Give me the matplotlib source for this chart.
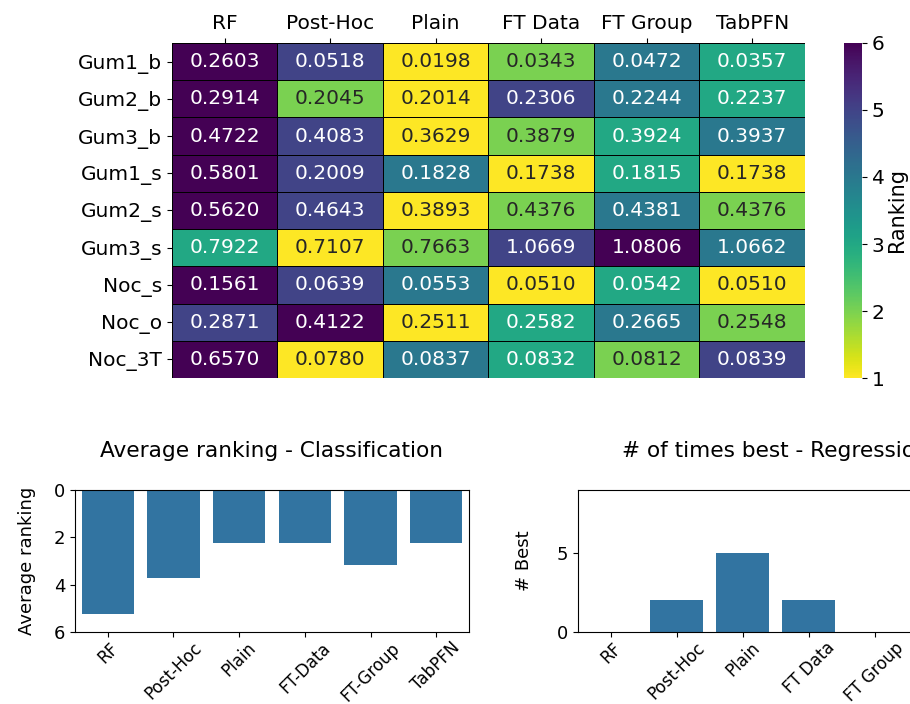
import numpy as np
import matplotlib
matplotlib.use("Agg")
import matplotlib.pyplot as plt
from matplotlib.colors import Normalize

# ── Regression results: error per dataset / method ───────────────────────────
methods = ["RF", "Post-Hoc", "Plain", "FT Data", "FT Group", "TabPFN"]
datasets = ["Gum1_b", "Gum2_b", "Gum3_b", "Gum1_s", "Gum2_s",
            "Gum3_s", "Noc_s", "Noc_o", "Noc_3T"]

errors = [
    [0.2603, 0.0518, 0.0198, 0.0343, 0.0472, 0.0357],
    [0.2914, 0.2045, 0.2014, 0.2306, 0.2244, 0.2237],
    [0.4722, 0.4083, 0.3629, 0.3879, 0.3924, 0.3937],
    [0.5801, 0.2009, 0.1828, 0.1738, 0.1815, 0.1738],
    [0.5620, 0.4643, 0.3893, 0.4376, 0.4381, 0.4376],
    [0.7922, 0.7107, 0.7663, 1.0669, 1.0806, 1.0662],
    [0.1561, 0.0639, 0.0553, 0.0510, 0.0542, 0.0510],
    [0.2871, 0.4122, 0.2511, 0.2582, 0.2665, 0.2548],
    [0.6570, 0.0780, 0.0837, 0.0832, 0.0812, 0.0839],
]

# rank within each dataset (1 = lowest error, ties share the lower rank)
rankings = [
    [6, 5, 1, 2, 4, 3],
    [6, 2, 1, 5, 4, 3],
    [6, 5, 1, 2, 3, 4],
    [6, 5, 4, 1, 3, 1],
    [6, 5, 1, 2, 4, 2],
    [3, 1, 2, 5, 6, 4],
    [6, 5, 4, 1, 3, 1],
    [5, 6, 1, 3, 4, 2],
    [6, 1, 4, 3, 2, 5],
]

# classification summary
clf_methods = ["RF", "Post-Hoc", "Plain", "FT-Data", "FT-Group", "TabPFN"]
clf_avg_rank = [5.25, 3.70, 2.26, 2.26, 3.19, 2.22]

# regression summary
reg_times_best = [0, 2, 5, 2, 0, 2]

BAR_COLOR = "#3274a1"

fig = plt.figure(figsize=(9.1, 7.04), dpi=100)

# ── Heatmap coloured by ranking, annotated with the error ─────────────────────
ax_hm = fig.add_axes([0.189, 0.463, 0.6956, 0.476])
ax_cb = fig.add_axes([0.9275, 0.463, 0.0198, 0.476])

rank_arr = np.array(rankings, dtype=float)
err_arr = np.array(errors)
norm = Normalize(vmin=1, vmax=6)
mesh = ax_hm.pcolormesh(rank_arr, cmap="viridis_r", norm=norm,
                        edgecolors="black", linewidth=0.5)
ax_hm.set_xlim(0, len(methods))
ax_hm.set_ylim(len(datasets), 0)

for i in range(len(datasets)):
    for j in range(len(methods)):
        txt_color = ".15" if rank_arr[i, j] <= 2 else "white"
        ax_hm.text(j + 0.5, i + 0.5, f"{err_arr[i, j]:.4f}",
                   ha="center", va="center", fontsize=14.5, color=txt_color)

ax_hm.xaxis.tick_top()
ax_hm.set_xticks(np.arange(len(methods)) + 0.5)
ax_hm.set_xticklabels(methods, fontsize=14.5)
ax_hm.set_yticks(np.arange(len(datasets)) + 0.5)
ax_hm.set_yticklabels(datasets, fontsize=14.5)
for s in ax_hm.spines.values():
    s.set_visible(False)

cbar = fig.colorbar(mesh, cax=ax_cb)
cbar.outline.set_visible(False)
cbar.set_ticks([1, 2, 3, 4, 5, 6])
cbar.ax.tick_params(labelsize=14.5)
cbar.set_label("Ranking", fontsize=15, labelpad=2)

# ── Average ranking (classification) ──────────────────────────────────────────
ax_l = fig.add_axes([0.0824, 0.1023, 0.433, 0.2017])
x = np.arange(len(clf_methods))
ax_l.bar(x, clf_avg_rank, width=0.8, color=BAR_COLOR)
ax_l.set_xlim(-0.5, len(clf_methods) - 0.5)
ax_l.set_ylim(6, 0)
ax_l.set_yticks([0, 2, 4, 6])
ax_l.set_xticks(x)
ax_l.set_xticklabels(clf_methods, rotation=45, fontsize=12)
ax_l.tick_params(axis="x", pad=1.5)
ax_l.tick_params(axis="y", labelsize=13)
ax_l.set_ylabel("Average ranking", fontsize=13, labelpad=13)
ax_l.set_title("Average ranking - Classification", fontsize=15.6, pad=24)

# ── Times best (regression) ───────────────────────────────────────────────────
ax_r = fig.add_axes([0.635, 0.1023, 0.435, 0.2017])
x = np.arange(len(methods))
ax_r.bar(x, reg_times_best, width=0.8, color=BAR_COLOR)
ax_r.set_xlim(-0.5, len(methods) - 0.5)
ax_r.set_ylim(0, len(datasets))
ax_r.set_yticks([0, 5])
ax_r.set_xticks(x)
ax_r.set_xticklabels(methods, rotation=45, fontsize=12)
ax_r.tick_params(axis="x", pad=1.5)
ax_r.tick_params(axis="y", labelsize=13)
ax_r.set_ylabel("# Best", fontsize=13, labelpad=17)
ax_r.set_title("# of times best - Regression", fontsize=15.6, pad=24)

fig.savefig("out.png", dpi=100)
